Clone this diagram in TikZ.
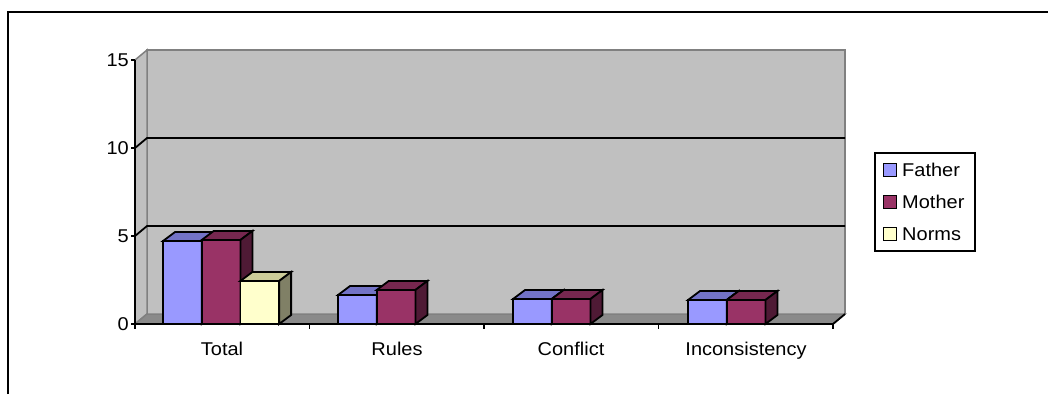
\documentclass[tikz,border=0pt]{standalone}
\usepackage{fontspec}
\setmainfont{Liberation Sans}
\usepackage{tikz}
\usetikzlibrary{calc}
\definecolor{wallgray}{HTML}{C0C0C0}
\definecolor{edgegray}{HTML}{808080}
\definecolor{floorgray}{HTML}{8A8A8A}
\definecolor{fatherfront}{HTML}{9999FF}
\definecolor{fathertop}{HTML}{7373C6}
\definecolor{fatherside}{HTML}{4C4C80}
\definecolor{motherfront}{HTML}{993366}
\definecolor{mothertop}{HTML}{76274F}
\definecolor{motherside}{HTML}{4F1A35}
\definecolor{normsfront}{HTML}{FFFFCC}
\definecolor{normstop}{HTML}{CCCC99}
\definecolor{normsside}{HTML}{808066}
\tikzset{
	barline/.style={draw=black, line width=1.8pt, line join=miter},
	axisline/.style={draw=black, line width=1.8pt},
	lbl/.style={font=\fontsize{18.5}{20}\selectfont, inner sep=0pt, xscale=1.08}
}
% left x, top y, colour prefix
\def\colbar(#1,#2)[#3]{
	\draw[barline, fill=#3front] (#1, 324) rectangle ({#1+38.7}, #2);
	\draw[barline, fill=#3top] (#1, #2) -- ++(12, -9) -- ++(38.7, 0) -- ++(-12, 9) -- cycle;
	\draw[barline, fill=#3side] ({#1+38.7}, 324) -- ++(12, -9) -- ({#1+50.7}, {#2-9}) -- ({#1+38.7}, #2) -- cycle;
}

\begin{document}
\begin{tikzpicture}[x=1pt, y=-1pt]
	%%%%% START %%%%%
	\useasboundingbox (0, 0) rectangle (1048, 394);
	
	\draw[line width=2pt] (7.5, 394) -- (7.5, 12) -- (1048, 12);
	
	% walls and floor
	\draw[fill=wallgray, draw=edgegray, line width=2pt] (147, 314) -- (147, 50) -- (845, 50) -- (845, 314);
	\draw[fill=wallgray, draw=edgegray, line width=1.5pt] (135, 324) -- (135, 60) -- (147, 50) -- (147, 314) -- cycle;
	\draw[fill=floorgray, draw=edgegray, line width=1.5pt] (135, 324) -- (147, 314) -- (845, 314) -- (833, 324) -- cycle;
	
	% grid
	\draw[axisline] (131, 236) -- (135, 236) -- (147, 226) -- (845, 226);
	\draw[axisline] (131, 148) -- (135, 148) -- (147, 138) -- (845, 138);
	\draw[axisline] (131, 60) -- (135, 60);
	\draw[axisline] (131, 324) -- (135, 324);
	
	% axes
	\draw[axisline] (135, 60) -- (135, 324) -- (833, 324) -- (845, 314);
	\draw[axisline] (135, 324) -- (135, 329);
	\draw[axisline] (309.5, 324) -- (309.5, 329);
	\draw[axisline] (484, 324) -- (484, 329);
	\draw[axisline] (658.5, 324) -- (658.5, 329);
	\draw[axisline] (833, 324) -- (833, 329);
	
	% bars
	\colbar(163, 241)[father]
	\colbar(201.7, 240)[mother]
	\colbar(240.4, 281)[norms]
	
	\colbar(338, 295)[father]
	\colbar(376.7, 290)[mother]
	
	\colbar(513, 299)[father]
	\colbar(551.7, 299)[mother]
	
	\colbar(688, 300)[father]
	\colbar(726.7, 300)[mother]
	
	% value labels
	\node[lbl, anchor=east] (v15) at (129, 60) {15};
	\node[lbl, anchor=east] (v10) at (129, 148) {10};
	\node[lbl, anchor=east] (v5) at (129, 236) {5};
	\node[lbl, anchor=east] (v0) at (129, 324) {0};
	
	% category labels
	\node[lbl, anchor=base] (total) at (222, 355) {Total};
	\node[lbl, anchor=base] (rules) at (397, 355) {Rules};
	\node[lbl, anchor=base] (conflict) at (571, 355) {Conflict};
	\node[lbl, anchor=base] (inconsistency) at (746, 355) {Inconsistency};
	
	% legend
	\draw[line width=2pt] (875, 153) rectangle (975, 251);
	\draw[line width=1.6pt, fill=fatherfront] (883.5, 163.5) rectangle (896.5, 176.5);
	\draw[line width=1.6pt, fill=motherfront] (883.5, 195.5) rectangle (896.5, 208.5);
	\draw[line width=1.6pt, fill=normsfront] (883.5, 227.5) rectangle (896.5, 240.5);
	\node[lbl, anchor=base west] (father) at (902, 176.5) {Father};
	\node[lbl, anchor=base west] (mother) at (902, 208.5) {Mother};
	\node[lbl, anchor=base west] (norms) at (902, 240.5) {Norms};
	
	%%%%% END %%%%%
\end{tikzpicture}
\end{document}
